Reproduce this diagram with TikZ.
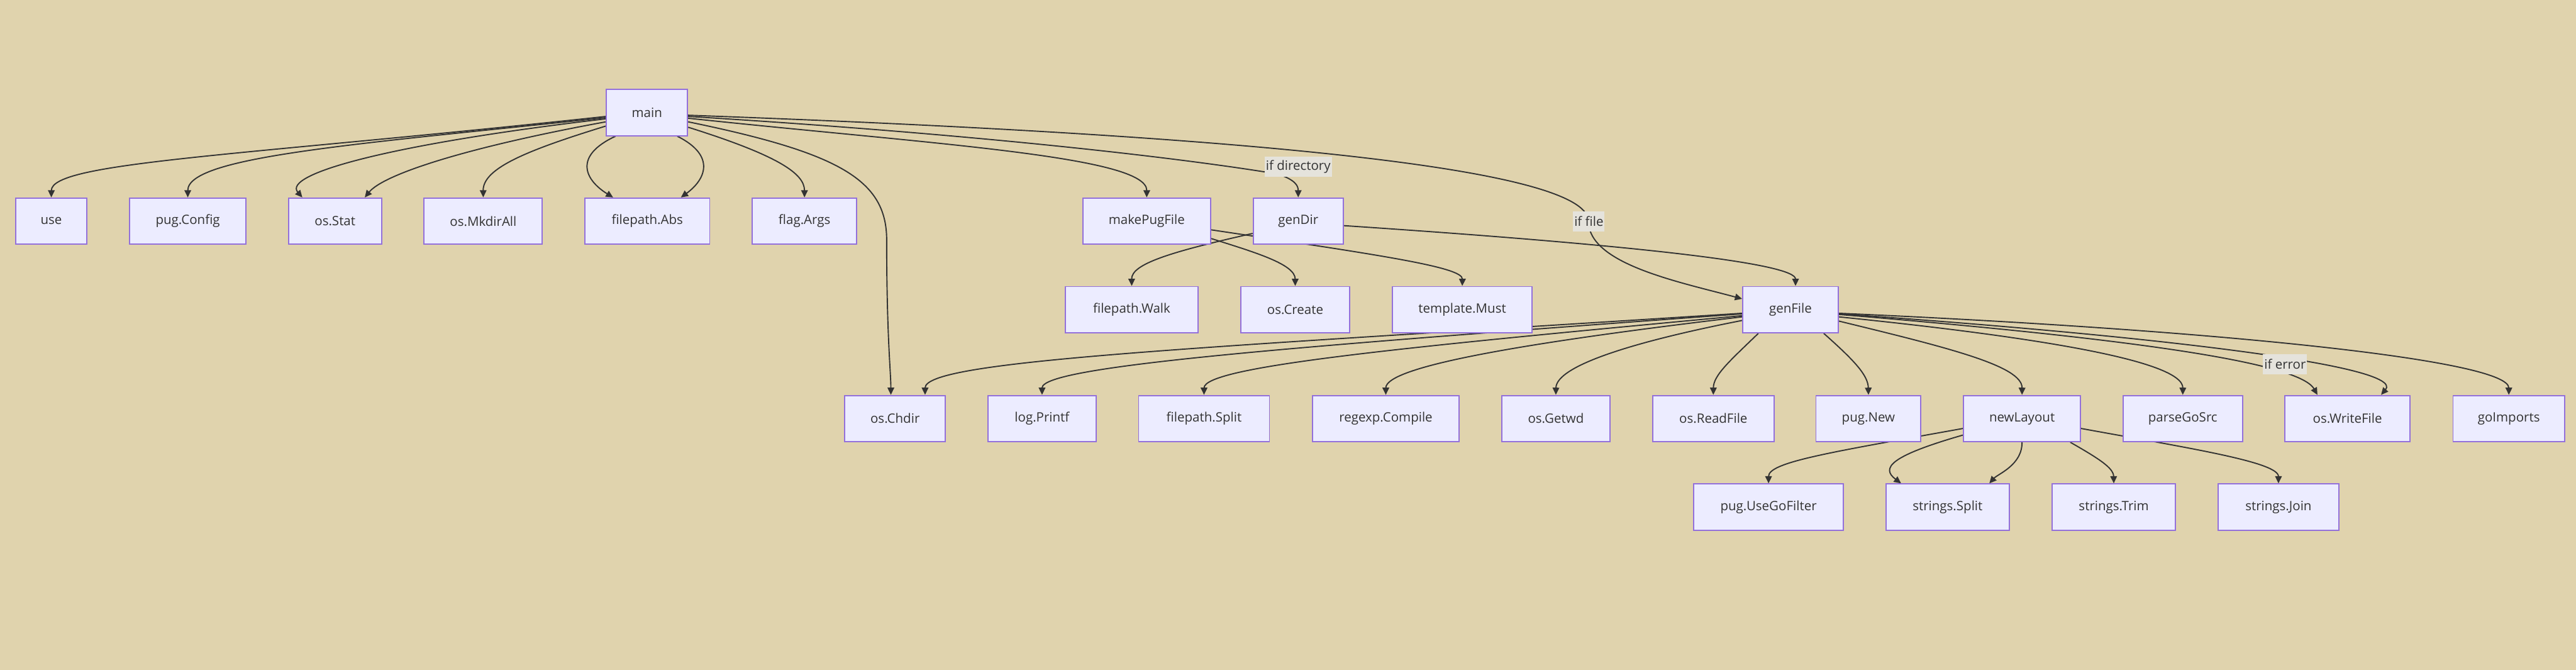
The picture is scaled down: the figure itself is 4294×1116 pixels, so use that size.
\documentclass[tikz,border=0pt]{standalone}
\usepackage{fontspec}
\setmainfont{Open Sans}
\usetikzlibrary{arrows.meta,calc}
\definecolor{bgcol}{HTML}{E0D3AD}
\definecolor{nodefill}{HTML}{ECECFF}
\definecolor{nodeborder}{HTML}{9370DB}
\definecolor{edgecol}{HTML}{333333}
\definecolor{textcol}{HTML}{333333}
\definecolor{lblfill}{HTML}{E5E3DC}
\pgfdeclarelayer{bgl}
\pgfdeclarelayer{edgel}
\pgfsetlayers{bgl,edgel,main}
\begin{document}
\begin{tikzpicture}[x=1pt,y=-1pt,
  box/.style={draw=nodeborder, fill=nodefill, line width=2pt, minimum height=77pt,
    inner sep=0pt, text=textcol, font=\fontsize{21.5}{26}\selectfont},
  edge/.style={draw=edgecol, line width=2pt, -{Triangle[length=12pt,width=11pt]}},
  lbl/.style={fill=lblfill, inner xsep=2pt, inner ysep=0pt, minimum height=34pt,
    text=textcol, font=\fontsize{21.5}{26}\selectfont}]
\useasboundingbox (0,0) rectangle (4294,1116);
\begin{pgfonlayer}{bgl}
\fill[bgcol] (0,0) rectangle (4294,1116);
\end{pgfonlayer}

% row 0
\node[box, minimum width=135pt] (main) at (1078.5,187.5) {main};
% row 1
\node[box, minimum width=119pt] (use) at (85.5,368.5) {use};
\node[box, minimum width=194pt] (pugConfig) at (313,368.5) {pug.Config};
\node[box, minimum width=155pt] (osStat) at (558.5,368.5) {os.Stat};
\node[box, minimum width=197pt] (osMkdirAll) at (805.5,368.5) {os.MkdirAll};
\node[box, minimum width=208pt] (filepathAbs) at (1079,368.5) {filepath.Abs};
\node[box, minimum width=174pt] (flagArgs) at (1341,368.5) {flag.Args};
\node[box, minimum width=213pt] (makePugFile) at (1911.5,368.5) {makePugFile};
\node[box, minimum width=150pt] (genDir) at (2164,368.5) {genDir};
% row 2
\node[box, minimum width=221pt] (filepathWalk) at (1886.5,516) {filepath.Walk};
\node[box, minimum width=182pt] (osCreate) at (2159,516) {os.Create};
\node[box, minimum width=233pt] (templateMust) at (2437.5,516) {template.Must};
\node[box, minimum width=159pt] (genFile) at (2984.5,516) {genFile};
% row 3
\node[box, minimum width=168pt] (osChdir) at (1492,697.5) {os.Chdir};
\node[box, minimum width=180pt] (logPrintf) at (1737,697.5) {log.Printf};
\node[box, minimum width=218pt] (filepathSplit) at (2007,697.5) {filepath.Split};
\node[box, minimum width=244pt] (regexpCompile) at (2310,697.5) {regexp.Compile};
\node[box, minimum width=181pt] (osGetwd) at (2593.5,697.5) {os.Getwd};
\node[box, minimum width=202pt] (osReadFile) at (2856,697.5) {os.ReadFile};
\node[box, minimum width=175pt] (pugNew) at (3114.5,697.5) {pug.New};
\node[box, minimum width=195pt] (newLayout) at (3370.5,697.5) {newLayout};
\node[box, minimum width=199pt] (parseGoSrc) at (3638.5,697.5) {parseGoSrc};
\node[box, minimum width=208pt] (osWriteFile) at (3913,697.5) {os.WriteFile};
\node[box, minimum width=186pt] (goImports) at (4182,697.5) {goImports};
% row 4
\node[box, minimum width=250pt] (pugUseGoFilter) at (2948,845) {pug.UseGoFilter};
\node[box, minimum width=205pt] (stringsSplit) at (3246.5,845) {strings.Split};
\node[box, minimum width=205pt] (stringsTrim) at (3523.5,845) {strings.Trim};
\node[box, minimum width=202pt] (stringsJoin) at (3798,845) {strings.Join};

\begin{pgfonlayer}{edgel}
% main -> row 1
\draw[edge] ($(main.west)+(0,6.5)$) .. controls (400,260) and (86,270) .. (use.north);
\draw[edge] ($(main.west)+(0,8.5)$) .. controls (600,240) and (313,260) .. (pugConfig.north);
\draw[edge] ($(main.west)+(0,10.5)$) .. controls (650,240) and (470,290) .. ($(osStat.north)+(-54.5,0)$);
\draw[edge] ($(main.west)+(0,15.5)$) .. controls (780,245) and (640,290) .. ($(osStat.north)+(49.5,0)$);
\draw[edge] ($(main.west)+(0,22.5)$) .. controls (880,250) and (805,280) .. (osMkdirAll.north);
\draw[edge] ($(main.south)+(-52.5,0)$) .. controls (955,260) and (975,300) .. ($(filepathAbs.north)+(-57,0)$);
\draw[edge] ($(main.south)+(50.5,0)$) .. controls (1195,260) and (1175,300) .. ($(filepathAbs.north)+(56,0)$);
\draw[edge] ($(main.east)+(0,24.5)$) .. controls (1300,260) and (1341,290) .. (flagArgs.north);
\draw[edge] ($(main.east)+(0,15.5)$) .. controls (1400,255) and (1478,300) .. (1478,400)
  .. controls (1478,560) and (1485,620) .. ($(osChdir.north)+(-7,0)$);
\draw[edge] ($(main.east)+(0,9.5)$) .. controls (1550,240) and (1912,260) .. (makePugFile.north);
\draw[edge] ($(main.east)+(0,6.5)$) .. controls (1650,225) and (1980,265) .. (2130,290)
  .. controls (2160,300) and (2164,310) .. (genDir.north);
\draw[edge] ($(main.east)+(0,4.5)$) .. controls (2200,230) and (2648,290) .. (2648,369)
  .. controls (2648,440) and (2800,470) .. ($(genFile.west)+(0,-18)$);
% makePugFile, genDir
\draw[edge] ($(makePugFile.east)+(0,29)$) .. controls (2090,420) and (2159,440) .. (osCreate.north);
\draw[edge] ($(makePugFile.east)+(0,14.5)$) .. controls (2300,425) and (2438,445) .. (templateMust.north);
\draw[edge] ($(genDir.west)+(0,20.5)$) .. controls (1950,420) and (1886,440) .. (filepathWalk.north);
\draw[edge] ($(genDir.east)+(0,7.5)$) .. controls (2750,410) and (2993,440) .. ($(genFile.north)+(8.5,0)$);
% genFile -> row 3
\draw[edge] ($(genFile.west)+(0,6)$) .. controls (2000,580) and (1542,600) .. ($(osChdir.north)+(50,0)$);
\draw[edge] ($(genFile.west)+(0,7)$) .. controls (2150,578) and (1737,610) .. (logPrintf.north);
\draw[edge] ($(genFile.west)+(0,10)$) .. controls (2350,578) and (2007,610) .. (filepathSplit.north);
\draw[edge] ($(genFile.west)+(0,12)$) .. controls (2550,570) and (2310,610) .. (regexpCompile.north);
\draw[edge] ($(genFile.west)+(0,18)$) .. controls (2720,570) and (2594,610) .. (osGetwd.north);
\draw[edge] ($(genFile.south)+(-53.5,0)$) .. controls (2885,600) and (2856,625) .. (osReadFile.north);
\draw[edge] ($(genFile.south)+(55.5,0)$) .. controls (3090,600) and (3114,625) .. (pugNew.north);
\draw[edge] ($(genFile.east)+(0,19)$) .. controls (3250,580) and (3371,610) .. (newLayout.north);
\draw[edge] ($(genFile.east)+(0,12)$) .. controls (3380,560) and (3639,600) .. (parseGoSrc.north);
\draw[edge] ($(genFile.east)+(0,8)$) .. controls (3500,560) and (3830,600) .. ($(osWriteFile.north)+(-50,0)$);
\draw[edge] ($(genFile.east)+(0,7)$) .. controls (3600,560) and (4010,610) .. ($(osWriteFile.north)+(56,0)$);
\draw[edge] ($(genFile.east)+(0,6)$) .. controls (3700,550) and (4182,600) .. (goImports.north);
% newLayout -> row 4
\draw[edge] ($(newLayout.west)+(0,16.5)$) .. controls (3050,754) and (2948,770) .. (pugUseGoFilter.north);
\draw[edge] ($(newLayout.west)+(0,27.5)$) .. controls (3150,760) and (3135,780) .. ($(stringsSplit.north)+(-77.5,0)$);
\draw[edge] (newLayout.south) .. controls (3371,775) and (3330,790) .. ($(stringsSplit.north)+(69.5,0)$);
\draw[edge] ($(newLayout.south)+(80.5,0)$) .. controls (3500,765) and (3523,780) .. (stringsTrim.north);
\draw[edge] ($(newLayout.east)+(0,16.5)$) .. controls (3650,747) and (3798,770) .. (stringsJoin.north);
\end{pgfonlayer}

% edge labels
\node[lbl] (lblDir) at (2164,278) {if directory};
\node[lbl] (lblFile) at (2648.5,369) {if file};
\node[lbl] (lblErr) at (3809,607) {if error};
\end{tikzpicture}
\end{document}
